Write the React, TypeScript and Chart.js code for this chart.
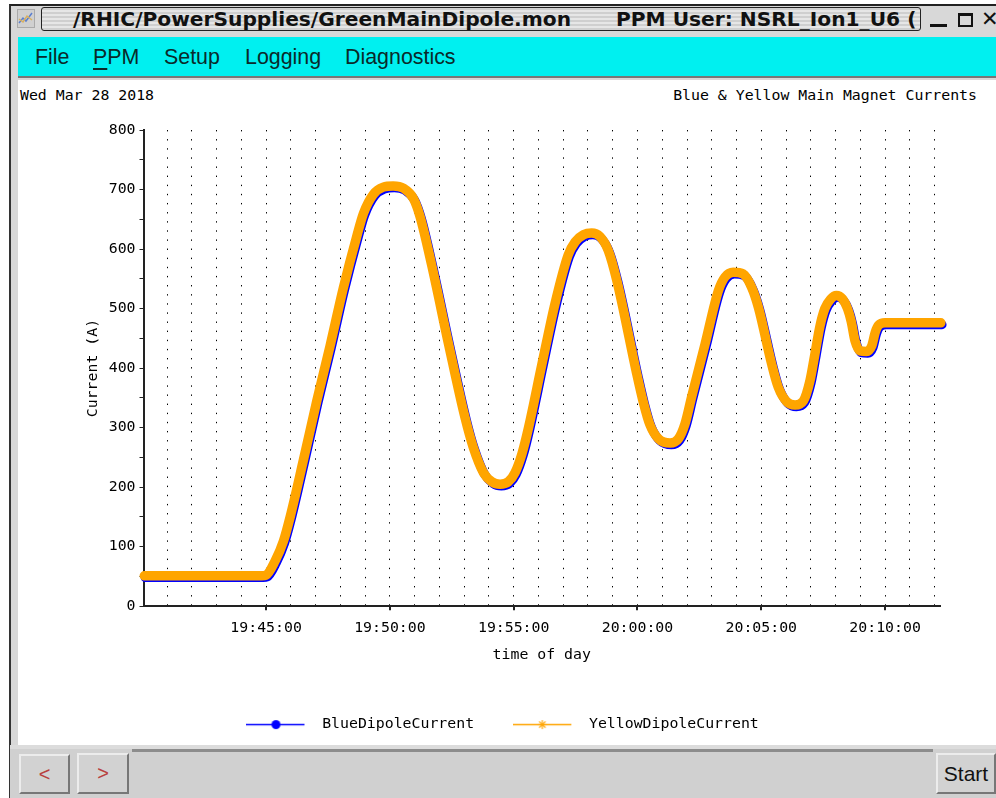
import React, { useEffect, useRef } from "react";
import { Chart, registerables } from "chart.js";

Chart.register(...registerables);

const dateLabel = "Wed Mar 28 2018";
const plotTitle = "Blue & Yellow Main Magnet Currents";
const windowTitle = "/RHIC/PowerSupplies/GreenMainDipole.mon";
const windowUser = "PPM User: NSRL_Ion1_U6 (";
const menuItems = ["File", "PPM", "Setup", "Logging", "Diagnostics"];
const seriesNames = ["BlueDipoleCurrent", "YellowDipoleCurrent"];
const yAxisTitle = "Current (A)";
const xAxisTitle = "time of day";

// seconds after 19:40:00
const yellowTimes = [5,290,300,322,342,358,390,423,455,487,520,536,560,584,608,633,657,673,701,742,782,802,827,847,867,887,903,920,936,968,1000,1032,1049,1069,1089,1109,1129,1150,1198,1214,1230,1251,1279,1299,1315,1331,1364,1396,1412,1432,1456,1477,1493,1525,1541,1561,1582,1602,1618,1630,1642,1654,1668,1682,1697,1709,1718,1727,1739,1755,1768,1776,1784,1800,1860,1935];
const yellowValues = [51,51,52,76,109,149,244,345,437,534,622,660,692,704,706,702,685,655,574,441,317,267,224,209,205,209,224,256,300,405,508,590,612,624,627,621,598,547,391,343,305,281,274,281,306,351,441,530,553,561,558,535,502,407,368,344,338,345,379,424,470,500,516,522,516,500,478,446,429,428,438,460,472,476,476,476];
const blueTimes = [7,293,303,325,345,361,393,426,458,490,523,539,563,587,611,636,660,676,704,745,785,805,830,850,870,890,906,923,939,971,1003,1035,1052,1072,1092,1112,1132,1153,1201,1217,1233,1254,1282,1302,1318,1334,1367,1399,1415,1435,1459,1480,1496,1528,1544,1564,1585,1605,1621,1633,1645,1657,1671,1685,1700,1712,1721,1730,1742,1758,1771,1779,1787,1803,1863,1938];
const blueValues = [48,48,49,73,106,146,241,342,434,531,619,657,689,701,703,699,682,652,571,438,314,264,221,206,202,206,221,253,297,402,505,587,609,621,624,618,595,544,388,340,302,278,271,278,303,348,438,527,550,558,555,532,499,404,365,341,335,342,376,421,467,497,513,519,513,497,475,443,426,425,435,457,469,473,473,473];

const xMin = 3;
const xMax = 1933;
const minuteTicks = [60,120,180,240,300,360,420,480,540,600,660,720,780,840,900,960,1020,1080,1140,1200,1260,1320,1380,1440,1500,1560,1620,1680,1740,1800,1860,1920];
const labelledTicks = [300,600,900,1200,1500,1800];
const yMax = 800;

const BLUE = "#0000ff";
const ORANGE = "#ffa500";
const MONO = "'DejaVu Sans Mono', monospace";

function clock(s: number) {
  const total = 19 * 3600 + 40 * 60 + s;
  const p = (n: number) => String(n).padStart(2, "0");
  return `${p(Math.floor(total / 3600))}:${p(Math.floor(total / 60) % 60)}:${p(total % 60)}`;
}

function legendSwatch(color: string, kind: "dot" | "star") {
  const c = document.createElement("canvas");
  c.width = 68;
  c.height = 13;
  const g = c.getContext("2d")!;
  g.strokeStyle = color;
  g.fillStyle = color;
  g.lineWidth = 1.5;
  g.beginPath();
  g.moveTo(0, 6.5);
  g.lineTo(58, 6.5);
  g.stroke();
  if (kind === "dot") {
    g.beginPath();
    g.arc(29.5, 6.5, 4.5, 0, Math.PI * 2);
    g.fill();
  } else {
    g.lineWidth = 1.2;
    for (let i = 0; i < 4; i++) {
      const a = (i * Math.PI) / 4;
      g.beginPath();
      g.moveTo(29 - 4.5 * Math.cos(a), 6.5 - 4.5 * Math.sin(a));
      g.lineTo(29 + 4.5 * Math.cos(a), 6.5 + 4.5 * Math.sin(a));
      g.stroke();
    }
  }
  return c;
}

function box(left: number, top: number, width: number, height: number, extra: React.CSSProperties = {}): React.CSSProperties {
  return { position: "absolute", left, top, width, height, boxSizing: "border-box", ...extra };
}

const raised: React.CSSProperties = {
  background: "#d2d2d2",
  borderTop: "2px solid #ececec",
  borderLeft: "2px solid #ececec",
  borderRight: "2px solid #777",
  borderBottom: "2px solid #777",
};

export default function App() {
  const ref = useRef<HTMLCanvasElement | null>(null);
  useEffect(() => {
    const font = { family: MONO, size: 14.85 };
    const chart = new Chart(ref.current!, {
      type: "line",
      data: {
        datasets: [
          {
            label: seriesNames[0],
            data: blueTimes.map((x, i) => ({ x, y: blueValues[i] })),
            borderColor: BLUE,
            backgroundColor: BLUE,
            borderWidth: 9,
            pointRadius: 0,
            pointStyle: legendSwatch(BLUE, "dot"),
            cubicInterpolationMode: "monotone",
            borderJoinStyle: "round",
            borderCapStyle: "round",
            order: 2,
            clip: false,
          },
          {
            label: seriesNames[1],
            data: yellowTimes.map((x, i) => ({ x, y: yellowValues[i] })),
            borderColor: ORANGE,
            backgroundColor: ORANGE,
            borderWidth: 9.5,
            pointRadius: 0,
            pointStyle: legendSwatch(ORANGE, "star"),
            cubicInterpolationMode: "monotone",
            borderJoinStyle: "round",
            borderCapStyle: "round",
            order: 1,
            clip: false,
          },
        ],
      },
      options: {
        animation: false,
        responsive: false,
        layout: { padding: { left: 47, top: 50, right: 48, bottom: 0 } },
        plugins: {
          tooltip: { enabled: false },
          title: { display: false },
          legend: {
            display: true,
            position: "bottom",
            labels: {
              usePointStyle: true,
              pointStyleWidth: 68.5,
              padding: 39,
              color: "#000",
              font,
              sort: (a: any, b: any) => a.datasetIndex - b.datasetIndex,
            },
          },
        },
        scales: {
          grid: {
            type: "linear",
            position: "bottom",
            min: xMin,
            max: xMax,
            afterBuildTicks: (a: any) => { a.ticks = minuteTicks.map((value) => ({ value })); },
            afterFit: (a: any) => { a.height = 0; },
            ticks: { display: false },
            border: { display: false, dash: [1.4, 7.72] },
            grid: { color: "#000", lineWidth: 1, drawTicks: false },
          },
          x: {
            type: "linear",
            position: "bottom",
            min: xMin,
            max: xMax,
            afterBuildTicks: (a: any) => { a.ticks = labelledTicks.map((value) => ({ value })); },
            afterFit: (a: any) => { a.height = 72; },
            ticks: { color: "#000", font, padding: 9, maxRotation: 0, autoSkip: false, callback: (v: any) => clock(Number(v)) },
            border: { color: "#222", width: 2 },
            grid: { drawOnChartArea: false, color: "#222", tickLength: 4, lineWidth: 2 },
            title: { display: true, text: xAxisTitle, color: "#000", font, padding: { top: 0, bottom: 14 } },
          },
          y: {
            min: 0,
            max: yMax,
            afterFit: (a: any) => { a.width = 78.5; },
            ticks: {
              stepSize: 50,
              color: "#000",
              font,
              padding: 4,
              autoSkip: false,
              callback: (v: any) => (Number(v) % 100 === 0 ? String(v) : ""),
            },
            border: { color: "#222", width: 2 },
            grid: { drawOnChartArea: false, color: "#222", tickLength: 4, lineWidth: 1 },
            title: { display: true, text: yAxisTitle, color: "#000", font, padding: { top: 19, bottom: 0 } },
          },
        },
      },
    } as any);
    return () => chart.destroy();
  }, []);

  const menuX = [35, 93, 164, 245, 345];
  const titleStyle: React.CSSProperties = { position: "absolute", top: 7, fontFamily: "'DejaVu Sans', sans-serif", fontWeight: 700, fontSize: 20.2, lineHeight: "24px", color: "#111", whiteSpace: "pre" };
  return (
    <div style={box(0, 0, 996, 798, { background: "#fff", overflow: "hidden", fontFamily: "'Liberation Sans', sans-serif" })}>
      <div style={box(9, 4, 987, 794, { background: "#d8d8d8", borderTop: "2px solid #222", borderLeft: "2px solid #333" })} />
      {/* title bar */}
      <div style={box(17, 9, 18, 19, { background: "#d0d0d0", border: "1px solid #aaa" })}>
        <svg width="16" height="17" style={{ display: "block" }}>
          <polyline points="1,13 5,8 8,11 14,3" fill="none" stroke="#5b7fd0" strokeWidth="1.5" />
          <polyline points="1,9 5,12 9,6 14,10" fill="none" stroke="#d8b060" strokeWidth="1.5" />
        </svg>
      </div>
      <div style={box(41, 7, 880, 24, {
        border: "1px solid #222",
        borderRadius: 3,
        background: "repeating-linear-gradient(#cfcfcf 0 2px, #e6e6e6 2px 4px)",
      })} />
      <div style={{ ...titleStyle, left: 73 }}>{windowTitle}</div>
      <div style={{ ...titleStyle, left: 616 }}>{windowUser}</div>
      <div style={box(930, 24, 17, 3, { background: "#111" })} />
      <div style={box(958, 13, 15, 14, { border: "2px solid #111", borderTopWidth: 3 })} />
      <div style={{ position: "absolute", left: 981, top: 5, fontFamily: "'DejaVu Sans', sans-serif", fontWeight: 700, fontSize: 21, lineHeight: "28px", color: "#111" }}>✕</div>
      {/* menu */}
      <div style={box(18, 37, 978, 41, { background: "#00f0f0", borderBottom: "2px solid #777" })} />
      {menuItems.map((m, i) => (
        <div key={m} style={{ position: "absolute", left: menuX[i], top: 43, fontSize: 21.4, lineHeight: "28px", color: "#0a2a2a", whiteSpace: "pre" }}>
          {i === 1 ? <><span style={{ textDecoration: "underline", textUnderlineOffset: 4 }}>P</span>PM</> : m}
        </div>
      ))}
      {/* plot panel */}
      <div style={box(18, 80, 978, 665, { background: "#fff" })} />
      <div style={{ position: "absolute", left: 20, top: 86, font: `14.85px ${MONO}`, lineHeight: "18px", color: "#000", whiteSpace: "pre" }}>{dateLabel}</div>
      <div style={{ position: "absolute", right: 19, top: 86, font: `14.85px ${MONO}`, lineHeight: "18px", color: "#000", whiteSpace: "pre" }}>{plotTitle}</div>
      <canvas ref={ref} width={970} height={662} style={{ position: "absolute", left: 18, top: 80, width: 970, height: 662, display: "block" }} />
      {/* bottom bar */}
      <div style={box(10, 745, 986, 53, { background: "#d0d0d0", borderTop: "4px solid #dcdcdc" })} />
      <div style={box(132, 749, 801, 3, { background: "#8c8c8c" })} />
      <div style={box(19, 754, 51, 40, { ...raised, display: "flex", alignItems: "center", justifyContent: "center", color: "#b84040", fontSize: 20 })}>&lt;</div>
      <div style={box(77, 753, 52, 41, { ...raised, display: "flex", alignItems: "center", justifyContent: "center", color: "#b84040", fontSize: 20 })}>&gt;</div>
      <div style={box(936, 753, 60, 41, { ...raised, display: "flex", alignItems: "center", justifyContent: "center", color: "#111", fontSize: 21 })}>Start</div>
    </div>
  );
}
